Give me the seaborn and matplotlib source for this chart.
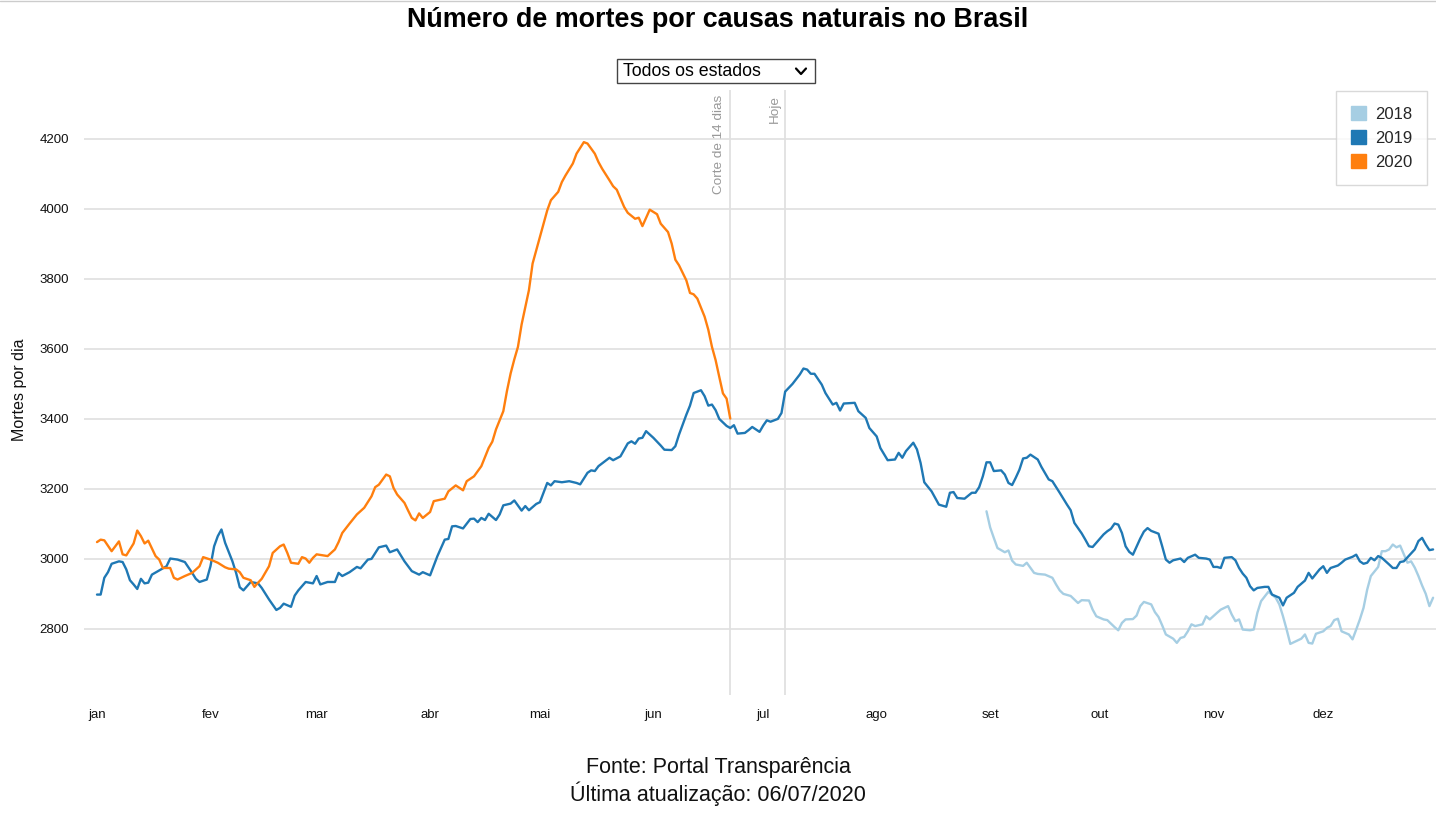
import numpy as np
import pandas as pd
import matplotlib
matplotlib.use("Agg")
import matplotlib.pyplot as plt
import seaborn as sns
from matplotlib.patches import Patch, Rectangle
from matplotlib.lines import Line2D

# ---------------- data (day of year, deaths per day) ----------------
dias_2020 = [0, 1, 2, 4, 6, 7, 8, 10, 11, 12, 13, 14, 16, 17, 18, 20, 21, 22, 24, 26, 28, 29,
             31, 33, 35, 36, 38, 39, 40, 42, 43, 44, 45, 47, 48, 50, 51, 52, 53, 55, 56, 57, 58,
             59, 60, 63, 65, 66, 67, 69, 71, 73, 75, 76, 77, 79, 80, 81, 82, 84, 85, 86, 87, 88,
             89, 91, 92, 95, 96, 98, 100, 101, 103, 105, 107, 108, 109, 111, 112, 113, 114, 115,
             116, 118, 119, 121, 123, 124, 126, 127, 128, 130, 131, 133, 134, 136, 137, 138, 140,
             141, 142, 144, 145, 147, 148, 149, 151, 153, 154, 156, 157, 158, 159, 161, 162, 163,
             164, 166, 167, 168, 169, 170, 171, 172, 173]
mortes_2020 = [3048, 3055, 3053, 3022, 3050, 3013, 3010, 3044, 3081, 3065, 3044, 3052, 3008, 2998,
               2974, 2974, 2946, 2941, 2951, 2960, 2979, 3005, 2998, 2989, 2976, 2972, 2970, 2962,
               2946, 2939, 2920, 2932, 2943, 2979, 3017, 3036, 3041, 3017, 2989, 2986, 3005, 3001,
               2989, 3003, 3013, 3008, 3027, 3048, 3074, 3101, 3127, 3146, 3179, 3205, 3212, 3241,
               3236, 3203, 3184, 3160, 3138, 3117, 3110, 3130, 3117, 3134, 3165, 3172, 3193, 3210,
               3196, 3222, 3236, 3265, 3317, 3335, 3370, 3422, 3480, 3530, 3570, 3606, 3670, 3768,
               3844, 3920, 3996, 4025, 4049, 4077, 4096, 4130, 4158, 4191, 4187, 4158, 4134, 4115,
               4082, 4065, 4055, 4006, 3989, 3972, 3975, 3951, 3998, 3985, 3958, 3934, 3901, 3855,
               3839, 3796, 3760, 3756, 3744, 3692, 3655, 3606, 3568, 3520, 3473, 3458, 3401]

dias_2019 = [0, 1, 2, 3, 4, 6, 7, 8, 9, 10, 11, 12, 13, 14, 15, 17, 19, 20, 22, 24, 26, 27, 28,
             30, 31, 32, 33, 34, 35, 37, 38, 39, 40, 42, 44, 45, 47, 49, 50, 51, 53, 54, 55, 57,
             59, 60, 61, 63, 65, 66, 67, 69, 71, 72, 74, 75, 77, 79, 80, 82, 84, 86, 88, 89, 91,
             93, 95, 96, 97, 98, 100, 102, 103, 104, 105, 106, 107, 109, 110, 111, 113, 114, 116,
             117, 118, 120, 121, 123, 124, 125, 127, 129, 131, 132, 134, 135, 136, 137, 140, 141,
             143, 145, 146, 147, 148, 149, 150, 152, 154, 155, 157, 158, 159, 161, 162, 163, 165,
             166, 167, 168, 169, 170, 172, 173, 174, 175, 177, 178, 179, 181, 182, 183, 184, 186,
             187, 188, 190, 192, 193, 194, 195, 196, 198, 199, 201, 202, 203, 204, 207, 208, 210,
             211, 213, 214, 216, 218, 219, 220, 221, 223, 224, 225, 226, 228, 229, 230, 232, 233,
             234, 235, 237, 239, 240, 241, 242, 243, 244, 245, 247, 248, 249, 250, 251, 252, 253,
             254, 255, 257, 258, 260, 261, 263, 265, 266, 267, 269, 270, 271, 272, 274, 275, 276,
             277, 278, 279, 280, 281, 282, 283, 285, 286, 287, 288, 290, 291, 292, 293, 294, 296,
             297, 298, 300, 301, 303, 304, 305, 306, 307, 308, 310, 311, 312, 313, 314, 315, 316,
             317, 319, 320, 321, 323, 324, 325, 327, 328, 330, 331, 332, 334, 335, 336, 337, 339,
             340, 341, 343, 344, 345, 346, 347, 348, 349, 350, 351, 353, 354, 355, 356, 357, 360,
             361, 362, 363, 364, 365]
mortes_2019 = [2898, 2898, 2946, 2962, 2986, 2993, 2991, 2970, 2939, 2927, 2914, 2943, 2930, 2932,
               2955, 2967, 2979, 3001, 2998, 2991, 2960, 2943, 2934, 2941, 2979, 3036, 3065, 3084,
               3046, 2993, 2960, 2919, 2910, 2934, 2930, 2917, 2884, 2854, 2860, 2872, 2863, 2895,
               2910, 2934, 2930, 2951, 2927, 2934, 2934, 2960, 2951, 2962, 2977, 2973, 2998, 3000,
               3033, 3038, 3019, 3027, 2993, 2965, 2955, 2962, 2953, 3008, 3055, 3057, 3093, 3094,
               3087, 3114, 3115, 3105, 3117, 3111, 3129, 3111, 3127, 3153, 3158, 3167, 3138, 3151,
               3139, 3157, 3162, 3217, 3210, 3222, 3219, 3222, 3217, 3213, 3246, 3253, 3251, 3265,
               3289, 3282, 3293, 3330, 3336, 3329, 3344, 3346, 3365, 3346, 3324, 3312, 3311, 3322,
               3355, 3412, 3438, 3474, 3482, 3465, 3438, 3441, 3425, 3400, 3380, 3374, 3382, 3358,
               3360, 3368, 3377, 3363, 3381, 3396, 3392, 3400, 3417, 3478, 3500, 3527, 3544, 3541,
               3529, 3529, 3498, 3474, 3441, 3446, 3424, 3444, 3446, 3422, 3403, 3374, 3350, 3317,
               3282, 3284, 3303, 3289, 3308, 3332, 3313, 3274, 3219, 3193, 3174, 3155, 3149, 3189,
               3191, 3174, 3172, 3189, 3189, 3205, 3236, 3276, 3276, 3251, 3253, 3241, 3217, 3211,
               3232, 3255, 3287, 3289, 3298, 3284, 3263, 3227, 3222, 3189, 3155, 3139, 3103, 3073,
               3055, 3036, 3034, 3058, 3070, 3079, 3086, 3101, 3098, 3074, 3036, 3020, 3012, 3058,
               3078, 3088, 3080, 3072, 3036, 2998, 2989, 2996, 3001, 2991, 3003, 3012, 3003, 3001,
               2998, 2977, 2977, 2974, 3003, 3005, 2996, 2974, 2958, 2946, 2922, 2910, 2917, 2920,
               2920, 2898, 2889, 2867, 2889, 2903, 2920, 2938, 2960, 2944, 2970, 2979, 2960, 2974,
               2981, 2989, 2998, 3006, 3012, 2993, 2986, 2989, 3003, 2996, 3008, 3003, 2984, 2974,
               2974, 2991, 2993, 3027, 3051, 3060, 3041, 3025, 3027]

dias_2018 = [243, 244, 245, 246, 248, 249, 250, 251, 253, 254, 256, 257, 259, 261, 262, 263, 264,
             266, 268, 269, 271, 272, 273, 275, 276, 278, 279, 280, 281, 283, 284, 285, 286, 288,
             289, 290, 291, 292, 294, 295, 296, 297, 298, 299, 300, 302, 303, 304, 306, 307, 309,
             310, 311, 312, 313, 315, 316, 317, 318, 320, 321, 322, 323, 324, 325, 326, 327, 329,
             330, 331, 332, 333, 335, 336, 337, 338, 339, 340, 342, 343, 344, 345, 346, 347, 348,
             350, 351, 352, 353, 354, 355, 356, 358, 359, 360, 361, 362, 363, 364, 365]
mortes_2018 = [3136, 3090, 3060, 3031, 3019, 3024, 2995, 2984, 2980, 2989, 2960, 2957, 2955, 2946,
               2927, 2910, 2900, 2894, 2874, 2882, 2881, 2855, 2836, 2827, 2825, 2805, 2796, 2817,
               2827, 2828, 2838, 2865, 2877, 2870, 2848, 2834, 2810, 2784, 2772, 2760, 2774, 2777,
               2793, 2813, 2808, 2813, 2836, 2827, 2846, 2855, 2865, 2841, 2822, 2827, 2798, 2796,
               2798, 2846, 2879, 2906, 2898, 2889, 2870, 2836, 2798, 2757, 2762, 2772, 2784, 2760,
               2758, 2786, 2793, 2803, 2808, 2825, 2829, 2793, 2784, 2770, 2798, 2827, 2860, 2912,
               2951, 2977, 3022, 3022, 3027, 3041, 3033, 3038, 2989, 2993, 2975, 2951, 2924, 2900,
               2865, 2889]

anos = ["2018", "2019", "2020"]
cores = ["#a6cee3", "#1f78b4", "#ff7f0e"]

meses = ["jan", "fev", "mar", "abr", "mai", "jun", "jul", "ago", "set", "out", "nov", "dez"]
inicio_mes = [0, 31, 60, 91, 121, 152, 182, 213, 244, 274, 305, 335]
y_ticks = [2800, 3000, 3200, 3400, 3600, 3800, 4000, 4200]

dia_corte = 173
dia_hoje = 188

# ---------------- figure ----------------
sns.set_theme(style="white")
plt.rcParams["font.family"] = ["Liberation Sans", "DejaVu Sans"]

frames = []
for ano, d, m in [("2018", dias_2018, mortes_2018), ("2019", dias_2019, mortes_2019),
                  ("2020", dias_2020, mortes_2020)]:
    frames.append(pd.DataFrame({"dia": d, "mortes": m, "ano": ano}))
df = pd.concat(frames, ignore_index=True)

fig = plt.figure(figsize=(14.36, 8.16), dpi=100)
ax = fig.add_axes([84 / 1436, 121 / 816, 1 - 84 / 1436, 605 / 816])

for yt in y_ticks:
    ax.axhline(yt, color="#dcdcdc", lw=1.1, zorder=0)

ax.axvline(dia_corte, color="#e0e0e0", lw=1.3, zorder=1)
ax.axvline(dia_hoje, color="#e0e0e0", lw=1.3, zorder=1)

sns.lineplot(data=df, x="dia", y="mortes", hue="ano", hue_order=anos,
             palette=dict(zip(anos, cores)), linewidth=1.7, legend=False, ax=ax, zorder=3)

ax.set_xlim(-3.55, 365.8)
ax.set_ylim(2611, 4340)
ax.set_xticks(inicio_mes)
ax.set_xticklabels(meses, fontsize=9.5, color="#111111")
ax.set_yticks(y_ticks)
ax.set_yticklabels([str(v) for v in y_ticks], fontsize=9.5, color="#111111")
ax.tick_params(axis="x", length=0, pad=10)
ax.tick_params(axis="y", length=0, pad=11)
ax.set_xlabel("")
ax.set_ylabel("")
for s in ax.spines.values():
    s.set_visible(False)
ax.grid(False)

fig.text(20 / 1436, 1 - 390 / 816, "Mortes por dia", rotation=90, ha="center", va="center",
         fontsize=11.5, color="#111111")

# vertical line labels
ax.text(dia_corte - 1.3, 4325, "Corte de 14 dias", rotation=90, ha="right", va="top",
        fontsize=9.7, color="#999999")
ax.text(dia_hoje - 1.3, 4325, "Hoje", rotation=90, ha="right", va="top",
        fontsize=9.7, color="#999999")

# legend
handles = [Patch(facecolor=c, edgecolor=c, label=a) for a, c in zip(anos, cores)]
leg = ax.legend(handles=handles, loc="upper right", bbox_to_anchor=(0.9933, 0.9985),
                borderaxespad=0, fontsize=12, frameon=True, fancybox=False, handlelength=0.9,
                handleheight=0.9, handletextpad=0.5, borderpad=0.9, labelspacing=0.5)
leg.get_frame().set_edgecolor("#d0d0d0")
leg.get_frame().set_linewidth(1)

# title
fig.text(0.5, 1 - 20 / 816, "Número de mortes por causas naturais no Brasil",
         ha="center", va="center", fontsize=19.4, fontweight="bold", color="#000000")

# dropdown
fig.add_artist(Rectangle((617 / 1436, 1 - 83 / 816), 198 / 1436, 24 / 816,
                         transform=fig.transFigure, facecolor="white",
                         edgecolor="#444444", lw=1))
fig.text(623 / 1436, 1 - 72 / 816, "Todos os estados", ha="left", va="center",
         fontsize=12.8, color="#000000")
fig.add_artist(Line2D([796 / 1436, 801 / 1436, 806 / 1436],
                      [1 - 68.5 / 816, 1 - 74 / 816, 1 - 68.5 / 816],
                      transform=fig.transFigure, color="#000000", lw=1.6))

# top border
fig.add_artist(Line2D([0, 1], [1 - 1 / 816, 1 - 1 / 816], transform=fig.transFigure,
                      color="#cccccc", lw=1))

# footer
fig.text(0.5, 1 - 768 / 816, "Fonte: Portal Transparência", ha="center", va="center",
         fontsize=15.5, color="#111111")
fig.text(0.5, 1 - 794 / 816, "Última atualização: 06/07/2020", ha="center", va="center",
         fontsize=15.5, color="#111111")

fig.savefig("out.png", dpi=100)
